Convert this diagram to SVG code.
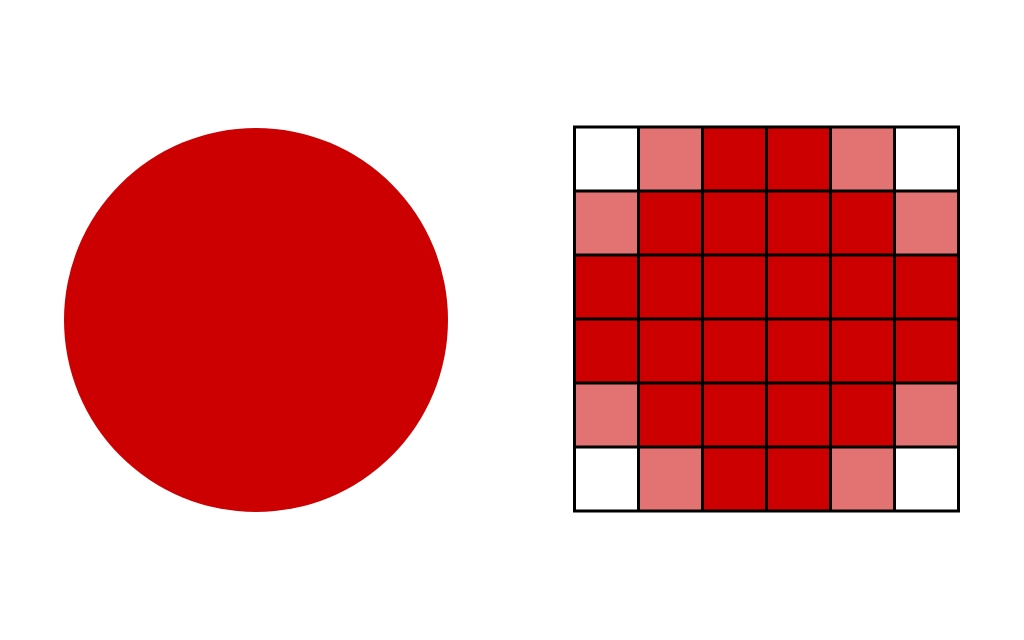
<svg xmlns="http://www.w3.org/2000/svg" width="1024" height="640" viewBox="0 0 1024 640">
<style>
.r{fill:#cc0000}
.p{fill:#e37373}
.w{fill:#ffffff}
.g{fill:none;stroke:#000;stroke-width:3}
</style>
<rect width="1024" height="640" fill="#fff"/>
<g id="circle"><circle cx="256" cy="320" r="192" class="r"/></g>
<g id="grid" transform="translate(574.5,127)">
<rect x="0" y="0" width="384" height="384" class="r"/>
<rect x="0" y="0" width="64" height="64" class="w"/>
<rect x="64" y="0" width="64" height="64" class="p"/>
<rect x="256" y="0" width="64" height="64" class="p"/>
<rect x="320" y="0" width="64" height="64" class="w"/>
<rect x="0" y="64" width="64" height="64" class="p"/>
<rect x="320" y="64" width="64" height="64" class="p"/>
<rect x="0" y="256" width="64" height="64" class="p"/>
<rect x="320" y="256" width="64" height="64" class="p"/>
<rect x="0" y="320" width="64" height="64" class="w"/>
<rect x="64" y="320" width="64" height="64" class="p"/>
<rect x="256" y="320" width="64" height="64" class="p"/>
<rect x="320" y="320" width="64" height="64" class="w"/>
<path class="g" d="M64 0V384M128 0V384M192 0V384M256 0V384M320 0V384M0 64H384M0 128H384M0 192H384M0 256H384M0 320H384"/>
<rect x="0" y="0" width="384" height="384" class="g"/>
</g>
</svg>
